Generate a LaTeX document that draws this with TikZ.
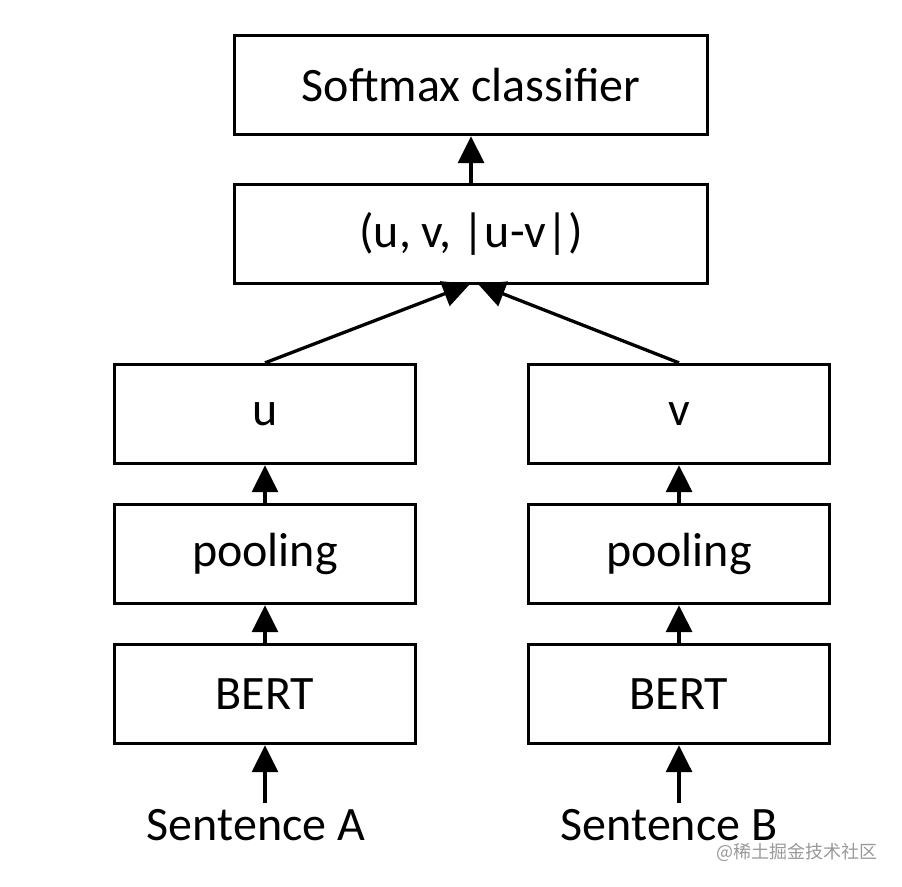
\documentclass[tikz,border=0pt]{standalone}
\usepackage{fontspec}
\setmainfont{Carlito}
\newfontfamily\cjk{Noto Sans CJK SC}
\usetikzlibrary{arrows.meta}
\begin{document}
\begin{tikzpicture}[x=1pt,y=-1pt,
  blk/.style={draw=black,line width=3.3pt,minimum width=301pt,minimum height=99pt,inner sep=0pt,font=\fontsize{48}{52}\selectfont},
  wide/.style={blk,minimum width=473pt},
  arr/.style={line width=3.3pt,-{Triangle[width=26pt,length=27pt]}},
  lbl/.style={font=\fontsize{48}{52}\selectfont,inner sep=0pt}]
\useasboundingbox (0,0) rectangle (902,886);
\node[wide] (soft) at (471,85) {Softmax classifier};
\node[wide] (cat) at (471,234) {(u, v, |u-v|)};
\node[blk] (u) at (265,414) {u};
\node[blk] (v) at (679,414) {v};
\node[blk] (pl) at (265,554) {pooling};
\node[blk] (pr) at (679,554) {pooling};
\node[blk] (bl) at (265,694) {BERT};
\node[blk] (br) at (679,694) {BERT};
\node[lbl,anchor=base] (sa) at (256,840) {Sentence A};
\node[lbl,anchor=base] (sb) at (669,840) {Sentence B};
\coordinate (sat) at (265,803);
\coordinate (sbt) at (679,803);
\coordinate (catl) at (470,284);
\coordinate (catr) at (478,284);
\node[font=\cjk\fontsize{18}{20}\selectfont,text=black!40,anchor=east,inner sep=0pt] (wm) at (878,852) {@稀土掘金技术社区};
\draw[arr] (cat.north) -- (soft.south);
\draw[arr] (u.north) -- (catl);
\draw[arr] (v.north) -- (catr);
\draw[arr] (pl.north) -- (u.south);
\draw[arr] (pr.north) -- (v.south);
\draw[arr] (bl.north) -- (pl.south);
\draw[arr] (br.north) -- (pr.south);
\draw[arr] (sat) -- (bl.south);
\draw[arr] (sbt) -- (br.south);
\end{tikzpicture}
\end{document}
